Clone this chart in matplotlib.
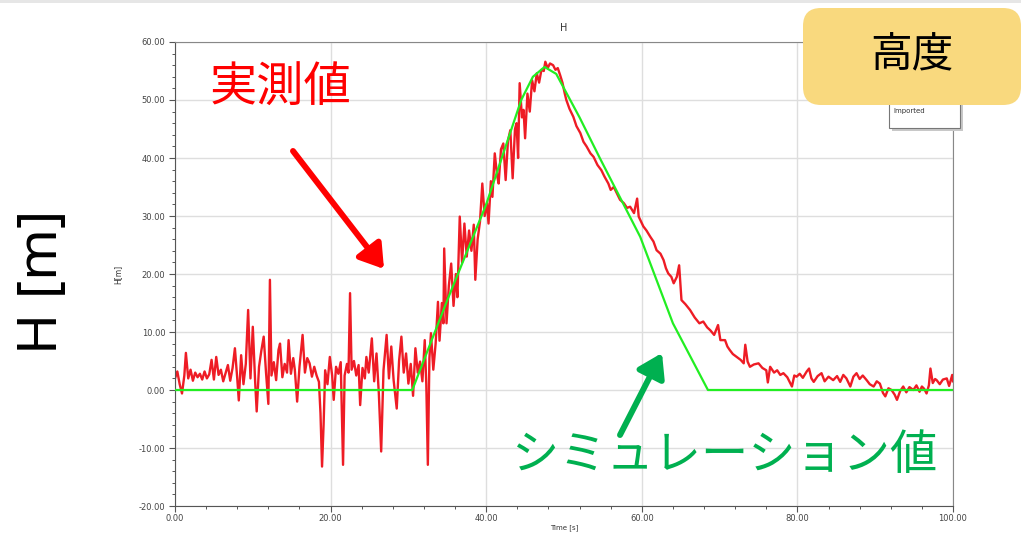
import matplotlib
matplotlib.use('Agg')
import matplotlib.pyplot as plt
from matplotlib.patches import FancyBboxPatch, Rectangle, FancyArrowPatch
from matplotlib.transforms import IdentityTransform
from matplotlib.ticker import MultipleLocator, FormatStrFormatter

plt.rcParams['font.family'] = ['Noto Sans CJK JP', 'DejaVu Sans']

t_meas = [0.0, 0.3, 0.6, 0.9, 1.2, 1.4, 1.7, 2.0, 2.3, 2.6, 2.9, 3.2, 3.5, 3.8, 4.1, 4.4, 4.7, 5.0, 5.3, 5.6,
          5.9, 6.2, 6.5, 6.8, 7.1, 7.4, 7.7, 8.0, 8.2, 8.5, 8.8, 9.1, 9.4, 9.7, 10.0, 10.3, 10.5, 10.8, 11.1, 11.4,
          11.7, 12.0, 12.2, 12.4, 12.7, 13.0, 13.3, 13.5, 13.8, 14.1, 14.4, 14.6, 14.9, 15.2, 15.4, 15.7, 16.0, 16.4, 16.7, 17.0,
          17.3, 17.6, 17.9, 18.2, 18.5, 18.7, 18.9, 19.1, 19.3, 19.6, 19.9, 20.2, 20.4, 20.7, 21.0, 21.3, 21.6, 21.8, 22.1, 22.3,
          22.5, 22.7, 23.0, 23.3, 23.6, 23.8, 24.1, 24.4, 24.6, 24.9, 25.3, 25.6, 25.9, 26.2, 26.5, 26.8, 27.2, 27.5, 27.8, 28.1,
          28.5, 28.8, 29.1, 29.4, 29.7, 30.0, 30.3, 30.6, 30.9, 31.2, 31.5, 31.8, 32.1, 32.3, 32.5, 32.7, 32.9, 33.2, 33.5, 33.8,
          34.0, 34.3, 34.5, 34.6, 34.9, 35.2, 35.5, 35.8, 36.1, 36.3, 36.6, 36.9, 37.2, 37.5, 37.8, 38.1, 38.4, 38.6, 38.9, 39.2,
          39.5, 39.8, 40.1, 40.3, 40.6, 40.8, 41.1, 41.4, 41.6, 41.9, 42.2, 42.5, 42.8, 43.1, 43.4, 43.7, 43.9, 44.1, 44.3, 44.6,
          44.8, 45.0, 45.3, 45.6, 45.9, 46.2, 46.5, 46.8, 47.1, 47.4, 47.6, 47.9, 48.2, 48.6, 48.9, 49.2, 49.5, 49.8, 50.1, 50.3,
          50.7, 51.2, 51.6, 52.1, 52.5, 52.9, 53.4, 53.8, 54.3, 54.8, 55.2, 55.7, 56.0, 56.4, 56.8, 57.2, 57.7, 58.1, 58.5, 59.0,
          59.4, 59.6, 60.2, 60.6, 61.1, 61.5, 61.9, 62.4, 62.8, 63.1, 63.4, 63.8, 64.1, 64.5, 64.8, 65.1, 65.6, 66.2, 66.8, 67.4,
          67.9, 68.4, 68.8, 69.3, 69.8, 70.1, 70.7, 71.0, 71.3, 71.7, 72.2, 72.7, 73.1, 73.3, 73.6, 73.9, 74.4, 75.0, 75.5, 76.0,
          76.2, 76.5, 77.0, 77.4, 77.8, 78.2, 78.7, 79.3, 79.6, 79.9, 80.3, 80.7, 81.2, 81.5, 81.8, 82.1, 82.6, 83.1, 83.5, 84.0,
          84.6, 85.1, 85.5, 85.9, 86.3, 86.8, 87.2, 87.6, 88.0, 88.4, 88.9, 89.3, 89.8, 90.2, 90.6, 91.0, 91.3, 91.7, 92.1, 92.5,
          92.8, 93.2, 93.6, 94.0, 94.4, 94.9, 95.3, 95.7, 96.0, 96.3, 96.6, 96.9, 97.1, 97.4, 97.7, 97.9, 98.3, 98.7, 99.2, 99.5,
          99.9, 100.0]
h_meas = [2.0, 3.2, 1.0, -0.6, 2.5, 6.4, 2.0, 3.5, 1.6, 3.0, 2.2, 2.8, 1.8, 3.2, 2.0, 2.7, 5.2, 1.8, 5.7, 2.6,
          3.5, 1.5, 2.9, 4.3, 1.6, 3.8, 7.2, 2.0, -1.8, 6.0, 1.0, 4.5, 13.8, 2.0, 10.9, 1.5, -3.7, 4.0, 6.8, 9.2,
          3.0, -2.4, 19.0, 2.5, 4.8, 1.7, 6.9, 8.0, 2.2, 4.5, 3.0, 8.6, 2.8, 5.5, 3.5, -2.0, 4.0, 9.5, 3.0, 5.5,
          4.6, 2.3, 4.0, 2.5, 1.4, -4.0, -13.2, -6.0, 3.4, 1.0, 5.7, 2.5, -1.7, 4.0, 2.8, 4.8, -12.9, 2.5, 4.5, 3.0,
          16.7, 3.5, 5.0, 2.5, 4.3, -2.6, 3.8, 2.0, 5.7, 3.0, 8.9, 1.5, 6.3, -0.6, -10.6, 3.4, 9.5, 2.0, 7.5, 1.7,
          -3.2, 5.0, 9.2, 3.0, 6.3, 1.1, 4.5, -1.0, 7.2, 3.0, 4.9, 1.5, 8.6, 1.0, -12.9, 5.5, 9.8, 3.5, 8.0, 15.2,
          8.5, 15.0, 11.5, 24.4, 11.5, 18.0, 21.8, 14.5, 20.0, 16.0, 29.9, 22.0, 28.7, 23.0, 27.5, 24.0, 28.5, 19.0, 26.0, 29.0,
          35.6, 30.0, 32.2, 28.7, 36.0, 33.3, 40.8, 37.0, 35.6, 41.5, 42.5, 36.2, 43.0, 44.8, 36.5, 45.0, 46.0, 40.0, 52.9, 47.0,
          48.3, 43.4, 51.1, 48.0, 53.4, 51.5, 54.6, 53.0, 55.2, 55.0, 56.6, 55.5, 56.3, 56.0, 55.2, 55.5, 54.3, 53.0, 51.1, 50.0,
          48.5, 47.1, 45.5, 44.3, 42.8, 42.0, 40.8, 40.2, 38.8, 37.9, 36.8, 35.6, 34.5, 35.0, 33.9, 32.8, 32.2, 31.4, 31.6, 30.5,
          33.0, 29.9, 28.2, 27.5, 26.4, 25.6, 24.1, 23.5, 22.4, 21.0, 20.1, 19.5, 18.4, 19.5, 21.5, 15.5, 14.8, 13.8, 12.5, 11.5,
          11.8, 10.8, 10.3, 9.5, 11.2, 8.6, 8.6, 7.5, 6.9, 6.2, 5.7, 5.2, 4.6, 7.8, 4.9, 4.0, 4.4, 4.6, 3.8, 3.4,
          1.3, 4.0, 3.0, 3.4, 2.6, 2.9, 2.2, 0.6, 2.5, 2.3, 2.8, 2.1, 3.2, 3.7, 2.0, 1.4, 2.4, 2.9, 1.5, 2.3,
          1.7, 2.4, 1.4, 2.6, 2.0, 0.6, 2.3, 2.9, 1.9, 2.5, 1.7, 1.0, 0.6, 1.5, 1.1, -0.5, -1.1, 0.3, 0.0, -0.8,
          -1.7, -0.2, 0.6, -0.4, 0.5, 0.0, 0.8, -0.3, 0.6, 0.2, -0.6, 0.8, 3.7, 1.2, 1.9, 1.7, 1.0, 1.8, 2.0, 0.7,
          2.6, 1.5]

# simulated height (green)
t_sim = [0.0, 30.5, 35.0, 40.0, 43.0, 44.5, 46.0, 47.5, 49.0, 50.0, 52.0, 54.6, 59.8, 64.0, 68.5, 100.0]
h_sim = [0.0, 0.0, 15.5, 32.0, 44.0, 50.0, 54.0, 55.7, 54.5, 52.0, 47.0, 40.0, 26.4, 11.5, 0.0, 0.0]

W, H = 1021, 534


def fx(px):
    return px / W


def fy(py):
    return 1 - py / H


fig = plt.figure(figsize=(W / 100, H / 100), dpi=100)
fig.patch.set_facecolor('white')

ax = fig.add_axes([fx(175), fy(506), (953 - 175) / W, (506 - 42) / H])
ax.plot(t_meas, h_meas, color='#EE1C25', lw=1.7, zorder=2)
ax.plot(t_sim, h_sim, color='#22EE22', lw=1.6, zorder=3)

ax.set_xlim(0, 100)
ax.set_ylim(-20, 60)
ax.xaxis.set_major_locator(MultipleLocator(20))
ax.xaxis.set_minor_locator(MultipleLocator(4))
ax.yaxis.set_major_locator(MultipleLocator(10))
ax.yaxis.set_minor_locator(MultipleLocator(2))
ax.xaxis.set_major_formatter(FormatStrFormatter('%.2f'))
ax.yaxis.set_major_formatter(FormatStrFormatter('%.2f'))
ax.tick_params(which='major', length=4, width=0.8, color='#555555', labelsize=6, labelcolor='#444444', pad=3)
ax.tick_params(axis='x', which='major', pad=2)
ax.tick_params(which='minor', length=2.5, width=0.7, color='#555555')
for lab in ax.get_xticklabels() + ax.get_yticklabels():
    lab.set_family('DejaVu Sans')
ax.grid(True, which='major', color='#dedede', lw=1.0)
ax.set_axisbelow(True)
for s in ['left', 'bottom']:
    ax.spines[s].set_color('#555555')
for s in ['top', 'right']:
    ax.spines[s].set_color('#888888')
ax.set_title('H', fontsize=7, family='DejaVu Sans', color='#333333', pad=8)
ax.set_xlabel('Time [s]', fontsize=5, family='DejaVu Sans', color='#333333', labelpad=0.5)
ax.set_ylabel('H[m]', fontsize=5.5, family='DejaVu Sans', color='#333333', labelpad=12)

# legend box (partly hidden)
fig.add_artist(Rectangle((fx(892), fy(131)), 71 / W, 70 / H, transform=fig.transFigure,
                         facecolor='#c8c8c8', edgecolor='none', zorder=5))
fig.add_artist(Rectangle((fx(889), fy(128)), 71 / W, 70 / H, transform=fig.transFigure,
                         facecolor='white', edgecolor='#777777', lw=0.8, zorder=6))
fig.text(fx(893), fy(111), 'Imported', fontsize=5, family='DejaVu Sans', color='#333333',
         va='center', ha='left', zorder=7)

# yellow label box
fig.add_artist(FancyBboxPatch((803, H - 105), 218, 97, boxstyle='round,pad=0,rounding_size=18',
                              transform=IdentityTransform(), facecolor='#F9D97E', edgecolor='none', zorder=10))
fig.text(fx(912), fy(55), '高度', fontsize=30, color='black', ha='center', va='center', zorder=11)

# top shadow line
fig.add_artist(Rectangle((0, fy(3)), 1, 3 / H, transform=fig.transFigure,
                         facecolor='#e6e6e6', edgecolor='none', zorder=10))

# big y label
fig.text(fx(43), fy(282), 'H [m]', fontsize=40, rotation=90, color='black',
         ha='center', va='center', family=['Noto Sans', 'DejaVu Sans'])

# annotations
fig.text(fx(280), fy(89), '実測値', fontsize=34, color='#FF0000', ha='center', va='center', zorder=11)
fig.text(fx(725), fy(456), 'シミュレーション値', fontsize=34, color='#00B050', ha='center', va='center', zorder=11)

fig.add_artist(FancyArrowPatch((293, H - 151), (384, H - 269), transform=IdentityTransform(),
                               arrowstyle='-|>,head_length=0.7,head_width=0.45', mutation_scale=20,
                               color='#FF0000', lw=4.3, zorder=11, shrinkA=0, shrinkB=0))
fig.add_artist(FancyArrowPatch((620, H - 435), (662, H - 353), transform=IdentityTransform(),
                               arrowstyle='-|>,head_length=0.7,head_width=0.45', mutation_scale=20,
                               color='#00B050', lw=4.3, zorder=11, shrinkA=0, shrinkB=0))

fig.savefig('out.png', dpi=100)
